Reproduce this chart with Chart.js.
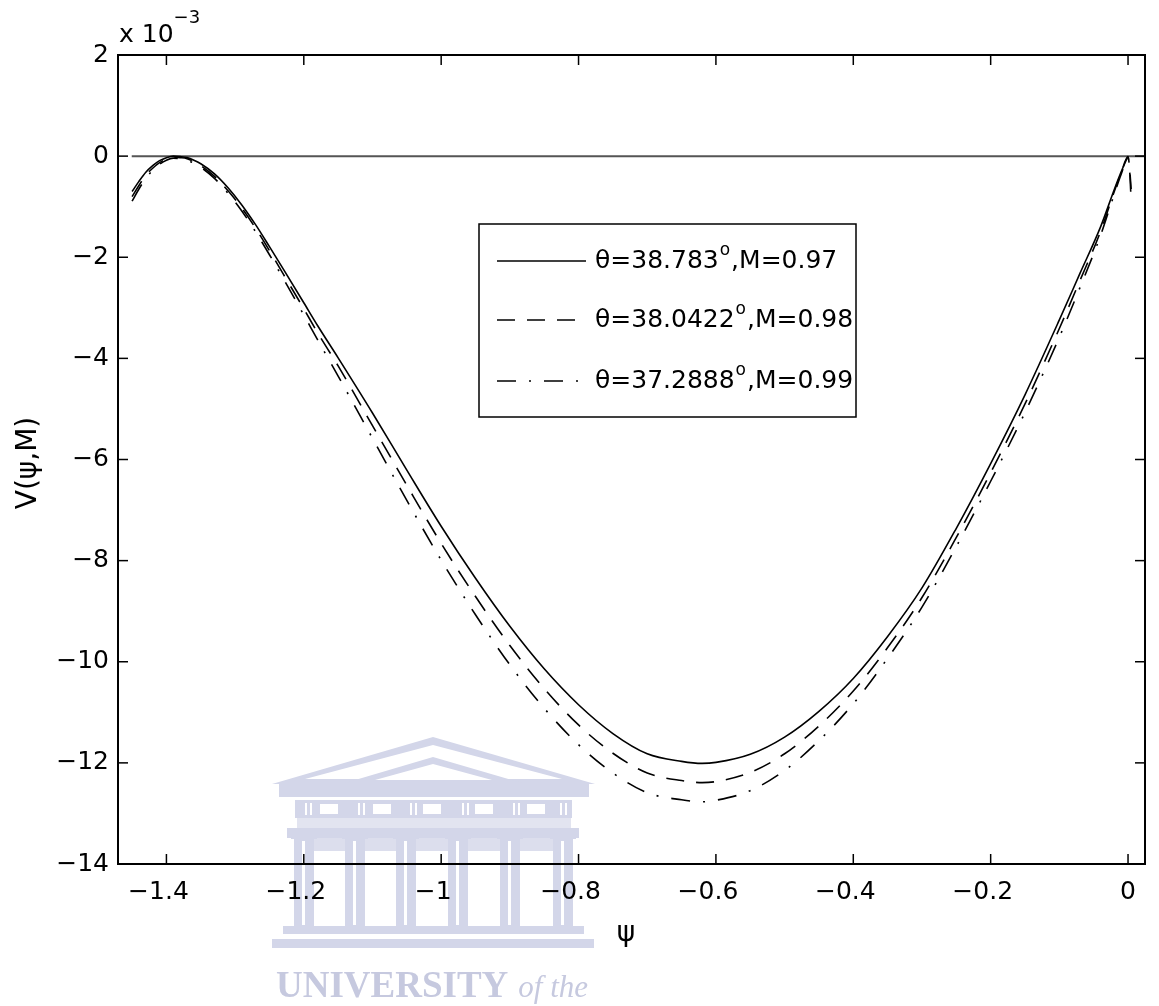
<!DOCTYPE html>
<html><head><meta charset="utf-8">
<script src="https://cdn.jsdelivr.net/npm/chart.js@4/dist/chart.umd.min.js"></script>
<style>html,body{margin:0;padding:0;background:#fff;overflow:hidden}canvas{display:block}</style>
</head><body>
<canvas id="c" width="1159" height="1006"></canvas>
<script>
// ---- data (V in units of 1e-3) ----
const psi = [-1.45,-1.44,-1.43,-1.42,-1.41,-1.40,-1.39,-1.38,-1.37,-1.36,-1.35,-1.33,-1.31,-1.29,-1.27,-1.25,-1.23,-1.20,-1.18,-1.15,-1.10,-1.05,-1.00,-0.95,-0.90,-0.85,-0.80,-0.75,-0.70,-0.65,-0.62,-0.60,-0.55,-0.50,-0.45,-0.40,-0.35,-0.30,-0.25,-0.20,-0.15,-0.10,-0.07,-0.04,-0.02,-0.01,0.00,0.0025,0.0045];
const vM097 = [-0.70,-0.50,-0.32,-0.19,-0.09,-0.03,0.00,-0.01,-0.03,-0.08,-0.15,-0.35,-0.63,-0.97,-1.36,-1.79,-2.23,-2.90,-3.35,-3.99,-5.08,-6.21,-7.32,-8.35,-9.30,-10.14,-10.85,-11.42,-11.82,-11.97,-12.01,-11.99,-11.83,-11.49,-10.98,-10.33,-9.50,-8.54,-7.36,-6.08,-4.72,-3.24,-2.32,-1.40,-0.66,-0.31,0.00,null,null];
const vM098 = [-0.80,-0.58,-0.38,-0.24,-0.13,-0.06,-0.02,-0.03,-0.05,-0.11,-0.19,-0.40,-0.69,-1.03,-1.43,-1.87,-2.33,-3.02,-3.49,-4.15,-5.33,-6.51,-7.66,-8.71,-9.68,-10.53,-11.25,-11.81,-12.20,-12.35,-12.39,-12.37,-12.19,-11.82,-11.27,-10.58,-9.72,-8.73,-7.54,-6.26,-4.90,-3.41,-2.46,-1.49,-0.70,-0.33,-0.01,-0.28,-0.65];
const vM099 = [-0.89,-0.65,-0.44,-0.28,-0.16,-0.08,-0.04,-0.05,-0.08,-0.14,-0.22,-0.44,-0.74,-1.09,-1.50,-1.95,-2.42,-3.14,-3.63,-4.35,-5.58,-6.81,-7.99,-9.07,-10.06,-10.92,-11.64,-12.20,-12.59,-12.73,-12.77,-12.74,-12.55,-12.15,-11.56,-10.83,-9.93,-8.92,-7.72,-6.43,-5.07,-3.58,-2.60,-1.57,-0.75,-0.36,-0.03,-0.32,-0.88];
const zeroPsi = [-1.4505, 0.0247];
const zeroV = [0, 0];
const xTicks = [-1.4,-1.2,-1,-0.8,-0.6,-0.4,-0.2,0];
const xTickLabels = ['−1.4','−1.2','−1','−0.8','−0.6','−0.4','−0.2','0'];
const yTicks = [2,0,-2,-4,-6,-8,-10,-12,-14];
const yTickLabels = ['2','0','−2','−4','−6','−8','−10','−12','−14'];
const legendTheta = ['θ=38.783','θ=38.0422','θ=37.2888'];
const legendM = [',M=0.97',',M=0.98',',M=0.99'];
const xTitle = 'ψ';
const yTitle = 'V(ψ,M)';

const FONT = 'DejaVu Sans';
const dashes = [[], [18,12], [19,13,2,13]];
const series = [vM097, vM098, vM099];

function pts(xs, ys){ return xs.map((x,i)=>({x:x, y:ys[i]})); }

const datasets = series.map((v,i)=>({
  label: legendTheta[i] + legendM[i],
  data: pts(psi, v),
  borderColor:'#000', borderWidth:1.6, borderDash:dashes[i],
  pointRadius:0, cubicInterpolationMode:'monotone', fill:false, spanGaps:false, order:1
}));
datasets.push({label:'zero', data: pts(zeroPsi, zeroV), borderColor:'#555', borderWidth:2, pointRadius:0, order:5});

const watermark = {
  id:'watermark',
  beforeDraw(chart){
    const c = chart.ctx;
    c.save();
    c.fillStyle='#fff'; c.fillRect(0,0,chart.width,chart.height);
    const L='#d3d6e9';
    c.fillStyle=L;
    // pediment
    c.beginPath(); c.moveTo(272,784); c.lineTo(433,737); c.lineTo(595,784); c.closePath(); c.fill();
    c.fillStyle='#fff';
    c.beginPath(); c.moveTo(305,779); c.lineTo(433,745); c.lineTo(562,779); c.closePath(); c.fill();
    c.fillStyle=L;
    c.beginPath(); c.moveTo(345,783); c.lineTo(433,757); c.lineTo(522,783); c.closePath(); c.fill();
    c.fillStyle='#fff';
    c.beginPath(); c.moveTo(375,780); c.lineTo(433,764); c.lineTo(492,780); c.closePath(); c.fill();
    c.fillStyle=L;
    c.fillRect(279,784,310,13);
    c.fillRect(295,800,277,18);
    c.fillStyle='#fff';
    [320,373,423,475,527].forEach(x=>c.fillRect(x,804,18,10));
    [305,358,410,462,513,560].forEach(x=>{c.fillRect(x,803,2,12);c.fillRect(x+5,803,2,12);});
    c.fillStyle='#e2e4f0'; c.fillRect(297,818,274,10);
    c.fillStyle=L; c.fillRect(287,828,292,10);
    c.fillStyle='#dcdeed'; c.fillRect(297,838,274,13);
    c.fillStyle=L;
    [304,355,406,458,510,563].forEach(x=>{
      c.fillRect(x-13,833,26,6);
      c.fillRect(x-10,838,20,89);
    });
    c.fillStyle='#fff';
    [304,355,406,458,510,563].forEach(x=>{c.fillRect(x-2,841,3,84);});
    c.fillStyle=L;
    c.fillRect(283,926,301,8);
    c.fillRect(272,939,322,9);
    c.fillStyle='#c6c9df';
    c.textBaseline='alphabetic'; c.textAlign='left';
    c.font='bold 37px "Liberation Serif"';
    c.fillText('UNIVERSITY',276,997);
    const w=c.measureText('UNIVERSITY').width;
    c.font='italic 31px "Liberation Serif"';
    c.fillText('of the',276+w+10,997);
    c.restore();
  }
};

const frame = {
  id:'frame',
  afterDraw(chart){
    const c = chart.ctx, a = chart.chartArea, xs = chart.scales.x, ys = chart.scales.y;
    c.save();
    c.setLineDash([]);
    c.strokeStyle='#000';
    c.lineWidth=1.5;
    const ln=(x1,y1,x2,y2)=>{c.beginPath();c.moveTo(x1,y1);c.lineTo(x2,y2);c.stroke();};
    xTicks.forEach(v=>{const p=xs.getPixelForValue(v); ln(p,a.bottom,p,a.bottom-10); ln(p,a.top,p,a.top+10);});
    yTicks.forEach(v=>{const p=ys.getPixelForValue(v); ln(a.left,p,a.left+10,p); ln(a.right,p,a.right-10,p);});
    c.lineWidth=2;
    c.strokeRect(a.left,a.top,a.right-a.left,a.bottom-a.top);
    // exponent label
    c.fillStyle='#000';
    c.textAlign='left'; c.textBaseline='alphabetic';
    c.font='25px "'+FONT+'"';
    c.fillText('x 10',a.left+1,42);
    const wx=c.measureText('x 10').width;
    c.font='18px "'+FONT+'"';
    c.fillText('−3',a.left+wx+1,23);
    // axis titles
    c.font='28px "'+FONT+'"';
    c.textAlign='center'; c.textBaseline='middle';
    c.fillText(xTitle,626,934);
    c.save(); c.translate(29,463); c.rotate(-Math.PI/2); c.fillText(yTitle,0,0); c.restore();
    // legend
    const lx0=479, ly0=224, lx1=856, ly1=417;
    c.fillStyle='#fff'; c.fillRect(lx0,ly0,lx1-lx0,ly1-ly0);
    c.lineWidth=1.5; c.strokeStyle='#000'; c.strokeRect(lx0,ly0,lx1-lx0,ly1-ly0);
    const rows=[261,320,381];
    rows.forEach((y,i)=>{
      c.setLineDash(dashes[i]); c.lineWidth=1.6; c.lineCap='butt';
      ln(497,y,586,y);
      c.setLineDash([]);
      c.fillStyle='#000'; c.textAlign='left'; c.textBaseline='middle';
      c.font='25px "'+FONT+'"';
      let x=595;
      c.fillText(legendTheta[i],x,y); x+=c.measureText(legendTheta[i]).width+1;
      c.font='17px "'+FONT+'"';
      c.fillText('o',x,y-10); x+=c.measureText('o').width+1;
      c.font='25px "'+FONT+'"';
      c.fillText(legendM[i],x,y);
    });
    c.restore();
  }
};

new Chart(document.getElementById('c'), {
  type:'line',
  data:{datasets:datasets},
  plugins:[watermark, frame],
  options:{
    responsive:false, animation:false, devicePixelRatio:1,
    layout:{padding:{top:55,right:14,left:0,bottom:0}},
    plugins:{legend:{display:false}, tooltip:{enabled:false}},
    scales:{
      x:{type:'linear', min:-1.4705, max:0.0247,
         afterBuildTicks:s=>{s.ticks = xTicks.map(v=>({value:v}));},
         afterFit:s=>{s.height=142;},
         grid:{display:false, drawTicks:false}, border:{display:false},
         ticks:{callback:(v,i)=>xTickLabels[i] + (xTickLabels[i].startsWith('−')?'\u2007':''), font:{family:FONT,size:25}, color:'#000', padding:13, maxRotation:0, minRotation:0, autoSkip:false}},
      y:{type:'linear', min:-14, max:2,
         afterBuildTicks:s=>{s.ticks = yTicks.map(v=>({value:v}));},
         afterFit:s=>{s.width=118;},
         grid:{display:false, drawTicks:false}, border:{display:false},
         ticks:{callback:(v,i)=>yTickLabels[i], font:{family:FONT,size:25}, color:'#000', padding:9, autoSkip:false}}
    }
  }
});
</script>
</body></html>
